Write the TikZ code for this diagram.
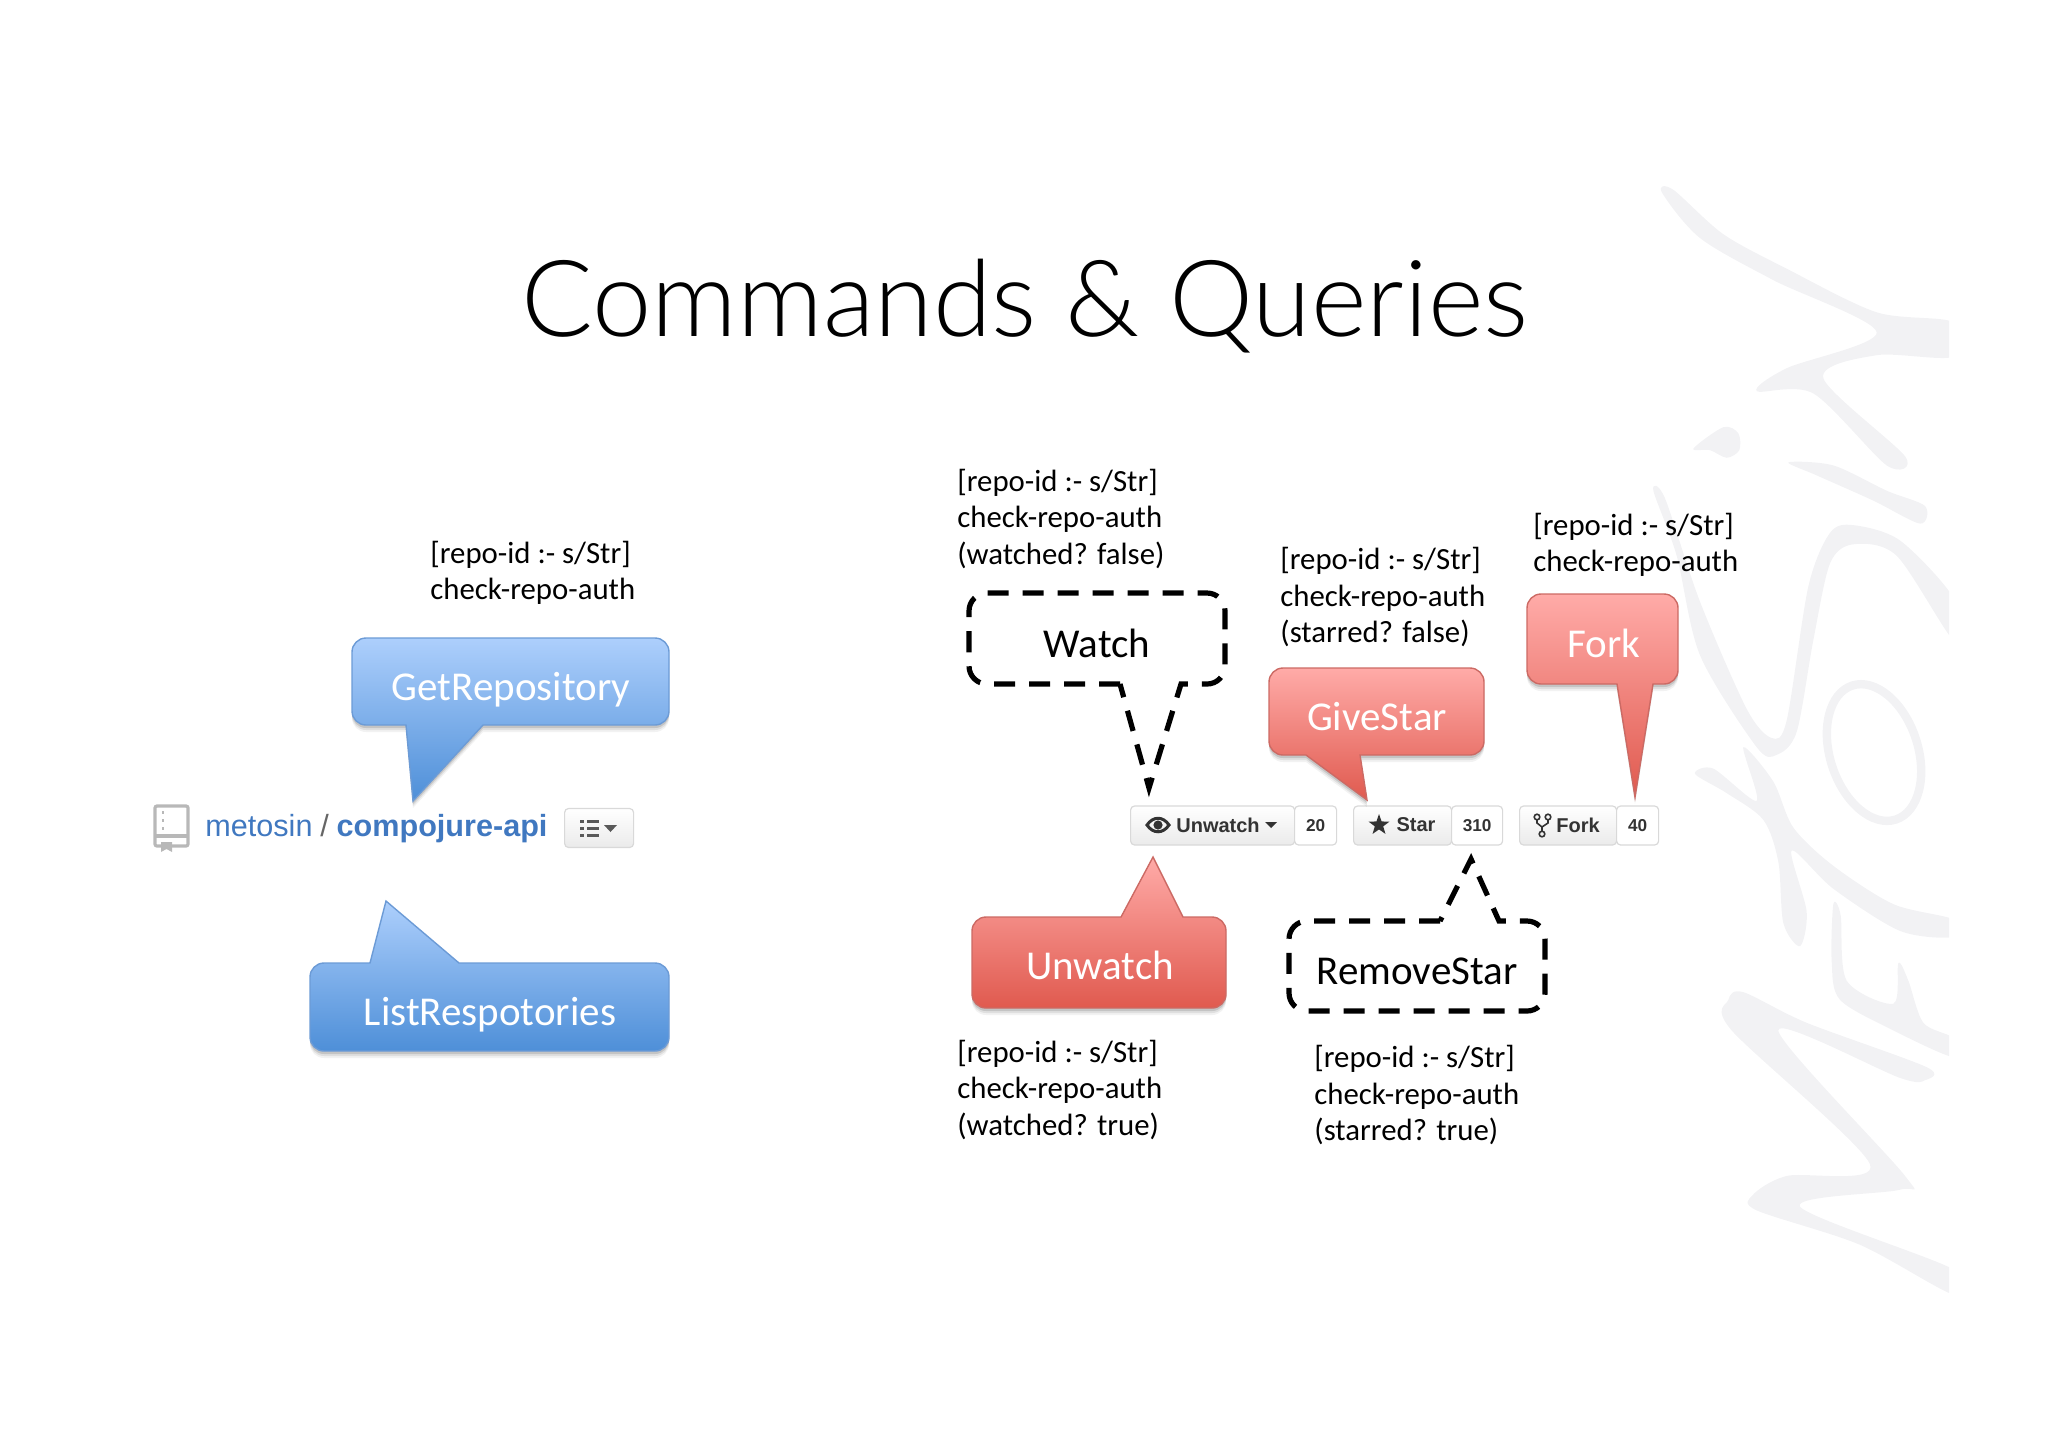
\documentclass[tikz,border=0pt]{standalone}
\usepackage{fontspec}
\setmainfont{Carlito}
\setsansfont{Liberation Sans}
\newfontfamily\titlefont{Lato}[UprightFont=* Light]
\usetikzlibrary{positioning,shadows,shapes.geometric}

\definecolor{blueedge}{HTML}{6C9BD6}
\definecolor{bluetop}{HTML}{ADCFFC}
\definecolor{bluebot}{HTML}{4E8FD8}
\definecolor{rededge}{HTML}{CC6A64}
\definecolor{redtop}{HTML}{FFABA8}
\definecolor{redbot}{HTML}{E05A4F}
\definecolor{ghblue}{HTML}{4078C0}
\definecolor{ghtext}{HTML}{333333}
\definecolor{ghedge}{HTML}{D9D9D9}
\definecolor{inkgrey}{HTML}{F2F2F4}
\definecolor{bookgrey}{HTML}{B8B8B8}

\tikzset{
  softshadow/.style={
    drop shadow={shadow xshift=0pt,shadow yshift=-3.5pt,fill=black,opacity=0.05},
    drop shadow={shadow xshift=0pt,shadow yshift=-2.5pt,fill=black,opacity=0.08},
    drop shadow={shadow xshift=0pt,shadow yshift=-1.5pt,fill=black,opacity=0.12}},
  bluecall/.style={draw=blueedge,line width=0.7pt,top color=bluetop,bottom color=bluebot,softshadow},
  redcall/.style={draw=rededge,line width=0.7pt,top color=redtop,bottom color=redbot,softshadow},
  dashcall/.style={draw=black,line width=2.6pt,dash pattern=on 10.5pt off 7pt},
  calltext/.style={font=\fontsize{20.5}{24}\selectfont,text=white,inner sep=0pt},
  dashtext/.style={calltext,text=black},
  params/.style={font=\fontsize{15.4}{18.25}\selectfont,align=left,anchor=west,inner sep=0pt},
  ghbtn/.style={draw=ghedge,line width=0.6pt,rounded corners=2pt,top color=white,bottom color=black!8,minimum height=19.5pt,inner sep=0pt,anchor=west},
  ghcount/.style={draw=ghedge,line width=0.6pt,rounded corners=2pt,fill=white,minimum height=19.5pt,inner sep=0pt,right=-0.6pt of #1,font=\sffamily\bfseries\fontsize{8.6}{10}\selectfont,text=ghtext},
  ghlabel/.style={font=\sffamily\bfseries\fontsize{10}{12}\selectfont,text=ghtext,inner sep=0pt},
  ink/.style={fill=inkgrey,draw=none},
}

\begin{document}
\begin{tikzpicture}[x=0.5pt,y=-0.5pt]
  \useasboundingbox (0,0) rectangle (2048,1447);

  % brush strokes behind everything
  \begin{scope}[shift={(800pt,-75pt)},x=0.16667pt,y=-0.3828pt]
    \clip (0,0) rectangle (1047,1600);
    \fill[ink] plot[smooth cycle,tension=0.5] coordinates {(185,55) (220,52) (370,110) (560,155) (830,212) (1060,225) (1060,270) (830,268) (670,298) (915,400) (860,412) (640,318) (470,315) (560,285) (830,238) (520,170) (300,115)};
    \fill[ink] plot[smooth cycle,tension=0.5] coordinates {(565,408) (700,412) (860,445) (975,465) (960,488) (820,458) (650,425)};
    \fill[ink] plot[smooth cycle,tension=0.5] coordinates {(280,390) (370,362) (415,370) (418,392) (380,402) (330,392)};
    \fill[ink] plot[smooth cycle,tension=0.5] coordinates {(160,445) (195,455) (300,590) (440,730) (515,768) (560,745) (625,570) (690,500) (760,490) (900,510) (1060,585) (1060,640) (890,530) (760,515) (690,540) (640,640) (590,760) (530,790) (470,780) (300,660) (230,530)};
    \draw[inkgrey,line width=4.2pt,rotate around={18:(822,787)}] (822,787) ellipse [x radius=132,y radius=92];
    \fill[ink] plot[smooth cycle,tension=0.5] coordinates {(285,815) (340,808) (470,850) (430,780) (520,825) (580,885) (700,935) (880,985) (1060,1005) (1060,1028) (900,1020) (700,965) (575,915) (620,995) (600,1040) (550,1010) (535,930) (490,875) (380,840)};
    \fill[ink] plot[smooth cycle,tension=0.5] coordinates {(700,985) (722,1000) (740,1085) (880,1115) (895,1062) (925,1085) (970,1140) (1060,1160) (1060,1185) (880,1150) (720,1110) (695,1060)};
    \fill[ink] plot[smooth cycle,tension=0.5] coordinates {(385,1110) (430,1100) (620,1140) (980,1198) (975,1215) (900,1212) (535,1150) (915,1340) (900,1358) (600,1380) (1060,1462) (1060,1495) (780,1430) (470,1385) (458,1365) (560,1340) (810,1325) (395,1150)};
  \end{scope}

  \node[font=\titlefont\fontsize{53.2}{64}\selectfont,anchor=base,inner sep=0pt] (title) at (1025,336) {Commands \& Queries};

  % left side
  \draw[bluecall] (406,725) [rounded corners=7pt] -- (352,725) -- (352,638) -- (669,638) -- (669,725) [sharp corners] -- (483,725) -- (413,801) -- cycle;
  \node[calltext] (getrepo) at (511,690) {GetRepository};
  \draw[bluecall] (370,963) [rounded corners=7pt] -- (310,963) -- (310,1051) -- (669,1051) -- (669,963) [sharp corners] -- (459,963) -- (386,901) -- cycle;
  \node[calltext] (listrepo) at (490,1015) {ListRespotories};
  \node[params] (getparams) at (430,573) {[repo-id :- s/Str]\\check-repo-auth};

  % repo heading
  \draw[bookgrey,line width=1.6pt,rounded corners=1pt] (155,806) rectangle (188,846);
  \draw[bookgrey,line width=1.6pt] (155,836) -- (188,836);
  \draw[bookgrey,line width=1pt,dash pattern=on 1.5pt off 2.5pt] (163,811) -- (163,831);
  \fill[bookgrey] (161,842) -- (172,842) -- (172,852) -- (166.5,849) -- (161,852) -- cycle;
  \node[anchor=base west,inner sep=0pt,font=\sffamily\fontsize{15.3}{18}\selectfont,text=ghblue] (owner) at (205,836) {metosin};
  \node[base right=3.5pt of owner,inner sep=0pt,font=\sffamily\fontsize{15.3}{18}\selectfont,text=black!60] (slash) {/};
  \node[base right=3.5pt of slash,inner sep=0pt,font=\sffamily\bfseries\fontsize{15.3}{18}\selectfont,text=ghblue] (reponame) {compojure-api};
  \node[ghbtn,minimum width=34.5pt,minimum height=19.5pt] (listbtn) at (564,828) {};
  \foreach \ly in {821,828,835} {
    \fill[black!65] (580,\ly-1.5) rectangle (584,\ly+1.5);
    \fill[black!65] (587,\ly-1.5) rectangle (599,\ly+1.5);
  }
  \fill[black!65] (604,825) -- (617,825) -- (610.5,832) -- cycle;

  % github buttons
  \node[ghbtn,minimum width=82pt] (unwatch) at (1130,825.5) {};
  \node[ghcount=unwatch,minimum width=21pt] (unwatchn) {20};
  \node[ghbtn,minimum width=49pt] (star) at (1353,825.5) {};
  \node[ghcount=star,minimum width=25.5pt] (starn) {310};
  \node[ghbtn,minimum width=48.5pt] (fork) at (1519,825.5) {};
  \node[ghcount=fork,minimum width=21pt] (forkn) {40};
  \node[ghlabel] (unwatchl) at (1218,825) {Unwatch};
  \node[ghlabel] (starl) at (1416,825) {Star};
  \node[ghlabel] (forkl) at (1578,825) {Fork};
  \draw[ghtext,line width=1.5pt] (1147,825) .. controls (1153,816) and (1163,816) .. (1169,825) .. controls (1163,834) and (1153,834) .. cycle;
  \fill[ghtext] (1158,825) circle (2.3pt);
  \fill[ghtext] (1265,822) -- (1277,822) -- (1271,828) -- cycle;
  \node[star,star points=5,star point ratio=2.5,fill=ghtext,inner sep=0pt,minimum size=11pt] (staricon) at (1379,825) {};
  \draw[ghtext,line width=0.8pt] (1537,817) circle (1.4pt) (1548,817) circle (1.4pt) (1542,834) circle (1.4pt);
  \draw[ghtext,line width=0.8pt] (1537,820) -- (1537,823) -- (1542,827) -- (1548,823) -- (1548,820) (1542,827) -- (1542,831);

  % right side, above
  \draw[dashcall,rounded corners=9pt] (1120,684) -- (969,684) -- (969,593) -- (1225,593) -- (1225,684) [sharp corners] -- (1181,684) -- (1149,788) -- cycle;
  \node[dashtext] (watch) at (1097,643) {Watch};
  \node[params] (watchparams) at (957,518.5) {[repo-id :- s/Str]\\check-repo-auth\\(watched? false)};
  \draw[redcall] (1306,755) [rounded corners=7pt] -- (1269,755) -- (1269,668) -- (1484,668) -- (1484,755) [sharp corners] -- (1360,755) -- (1367,800) -- cycle;
  \node[calltext] (givestar) at (1377,717) {GiveStar};
  \node[params] (giveparams) at (1280,597) {[repo-id :- s/Str]\\check-repo-auth\\(starred? false)};
  \draw[redcall] (1617,684) [rounded corners=7pt] -- (1527,684) -- (1527,594) -- (1678,594) -- (1678,684) [sharp corners] -- (1653,684) -- (1635,797) -- cycle;
  \node[calltext] (forkcall) at (1604,643) {Fork};
  \node[params] (forkparams) at (1533,545) {[repo-id :- s/Str]\\check-repo-auth};

  % right side, below
  \draw[redcall] (1121,917) [rounded corners=7pt] -- (972,917) -- (972,1008) -- (1226,1008) -- (1226,917) [sharp corners] -- (1183,917) -- (1153,857) -- cycle;
  \node[calltext] (unwatchcall) at (1100,965) {Unwatch};
  \node[params] (unwatchparams) at (957,1089.5) {[repo-id :- s/Str]\\check-repo-auth\\(watched? true)};
  \draw[dashcall,rounded corners=9pt] (1440,921) -- (1289,921) -- (1289,1011) -- (1545,1011) -- (1545,921) [sharp corners] -- (1499,921) -- (1471,859) -- cycle;
  \node[dashtext] (removestar) at (1417,971) {RemoveStar};
  \node[params] (removeparams) at (1314,1095) {[repo-id :- s/Str]\\check-repo-auth\\(starred? true)};
\end{tikzpicture}
\end{document}
